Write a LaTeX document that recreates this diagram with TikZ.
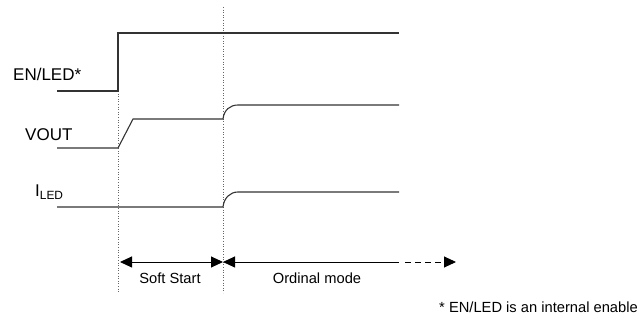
\documentclass[tikz,border=0pt]{standalone}
\usepackage{fontspec}
\setmainfont{Liberation Sans}
\usetikzlibrary{arrows.meta, positioning}

\begin{document}
\begin{tikzpicture}[x=1pt, y=-1pt,
    sig/.style={line width=1.1pt, draw=black!80},
    guide/.style={dotted, draw=black!60, line width=0.6pt},
    span/.style={line width=0.9pt, >={Triangle[length=12pt,width=11pt]}},
    lbl/.style={inner sep=0pt, font=\fontsize{14.7}{17}\selectfont},
    siglbl/.style={lbl, anchor=base west, font=\fontsize{17}{20}\selectfont}]
  \useasboundingbox (0,0) rectangle (640,320);

  % guide lines
  \coordinate (g1t) at (118,91);  \coordinate (g1b) at (118,293);
  \coordinate (g2t) at (223,7);   \coordinate (g2b) at (223,293);
  \draw[guide] (g1t) -- (g1b);
  \draw[guide] (g2t) -- (g2b);

  % labels
  \node[siglbl] (en)   at (13,81)  {EN/LED*};
  \node[siglbl] (vout) at (25,141) {VOUT};
  \node[siglbl] (iled) at (35,197) {I\textsubscript{LED}};

  % EN/LED
  \draw[sig] (57,91) -- (118,91) -- (118,33) -- (399,33);
  % VOUT
  \draw[sig] (57,148) -- (118,148) -- (133,119) -- (223,119)
     .. controls (224,110) and (230,105) .. (238,105) -- (399,105);
  % I_LED
  \draw[sig] (57,207) -- (223,207)
     .. controls (224,198) and (230,192) .. (238,192) -- (399,192);

  % spans
  \coordinate (s0) at (120,262);
  \coordinate (s1) at (223,262);
  \coordinate (s2) at (399,262);
  \coordinate (s3) at (405,262);
  \coordinate (s4) at (456,262);
  \draw[span, <->] (s0) -- (s1);
  \draw[span, <-] (s1) -- (s2);
  \draw[span, ->, dash pattern=on 6pt off 4pt] (s3) -- (s4);

  \node[lbl, anchor=base] (soft) at (170,284) {Soft Start};
  \node[lbl, anchor=base] (ord)  at (317,284) {Ordinal mode};
  \node[lbl, anchor=base east] (note) at (638,313) {* EN/LED is an internal enable};
\end{tikzpicture}
\end{document}
